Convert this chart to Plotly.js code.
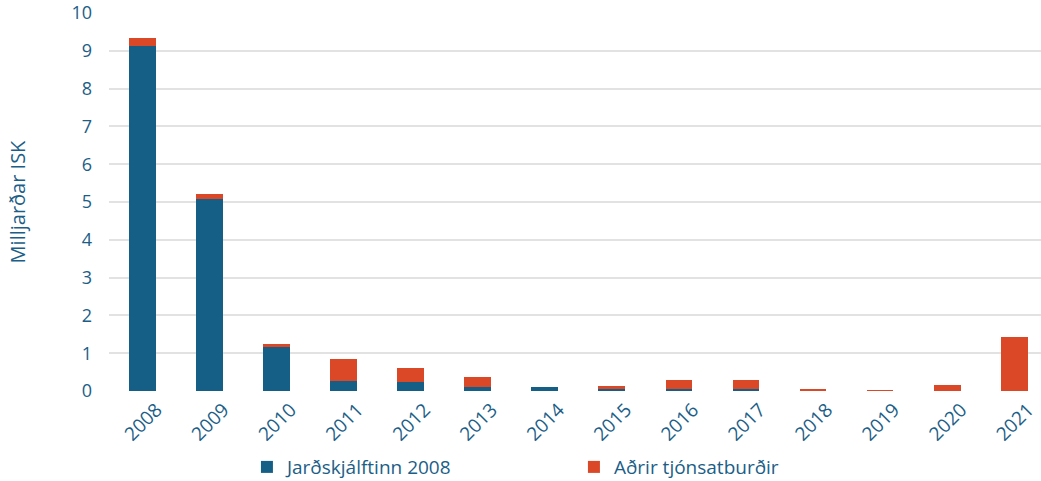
<!DOCTYPE html>
<html>
<head>
<meta charset="utf-8">
<script src="https://cdn.plot.ly/plotly-3.0.1.min.js"></script>
<style>html,body{margin:0;padding:0;background:#fff;}#chart{width:1041px;height:481px;}</style>
</head>
<body>
<div id="chart"></div>
<script>
const years = ["2008","2009","2010","2011","2012","2013","2014","2015","2016","2017","2018","2019","2020","2021"];
const jardskjalfti = [9.12, 5.08, 1.17, 0.27, 0.25, 0.10, 0.11, 0.04, 0.04, 0.06, 0.01, 0.01, 0.0, 0.0];
const adrir = [0.23, 0.12, 0.08, 0.58, 0.37, 0.27, 0.005, 0.09, 0.25, 0.24, 0.04, 0.01, 0.17, 1.43];
const yTicks = [0,1,2,3,4,5,6,7,8,9,10];

const txtColor = "#1b5e87";
const data = [
  {type:"bar", name:"Jarðskjálftinn 2008", x:years, y:jardskjalfti, marker:{color:"#155f86", line:{width:0}}, width:0.4},
  {type:"bar", name:"Aðrir tjónsatburðir", x:years, y:adrir, marker:{color:"#db4827", line:{width:0}}, width:0.4}
];
const layout = {
  barmode:"stack",
  width:1041, height:481,
  margin:{l:109, r:0, t:13, b:90},
  paper_bgcolor:"#fff", plot_bgcolor:"#fff",
  font:{family:"Open Sans", color:txtColor, size:18},
  showlegend:true,
  legend:{orientation:"h", xref:"paper", x:0.148, xanchor:"left", yref:"container", y:0.029, yanchor:"middle", font:{size:19, color:txtColor}, entrywidth:282, itemwidth:30, traceorder:"normal"},
  xaxis:{type:"category", automargin:false, tickangle:-45, tickfont:{size:19, color:txtColor}, ticklabelshift:14, ticklabelstandoff:3, showgrid:false, zeroline:false, showline:false, ticks:"", range:[-0.5,13.4]},
  yaxis:{automargin:true, range:[0,10], tickvals:yTicks, ticktext:yTicks.map(String), tickfont:{size:18, color:txtColor}, gridcolor:"#e2e2e2", gridwidth:2, zeroline:false, showline:false, ticklabelstandoff:16,
    title:{text:"Milljarðar ISK", font:{size:20, color:txtColor}, standoff:40}}
};
Plotly.newPlot("chart", data, layout, {displayModeBar:false, staticPlot:true});
</script>
</body>
</html>
